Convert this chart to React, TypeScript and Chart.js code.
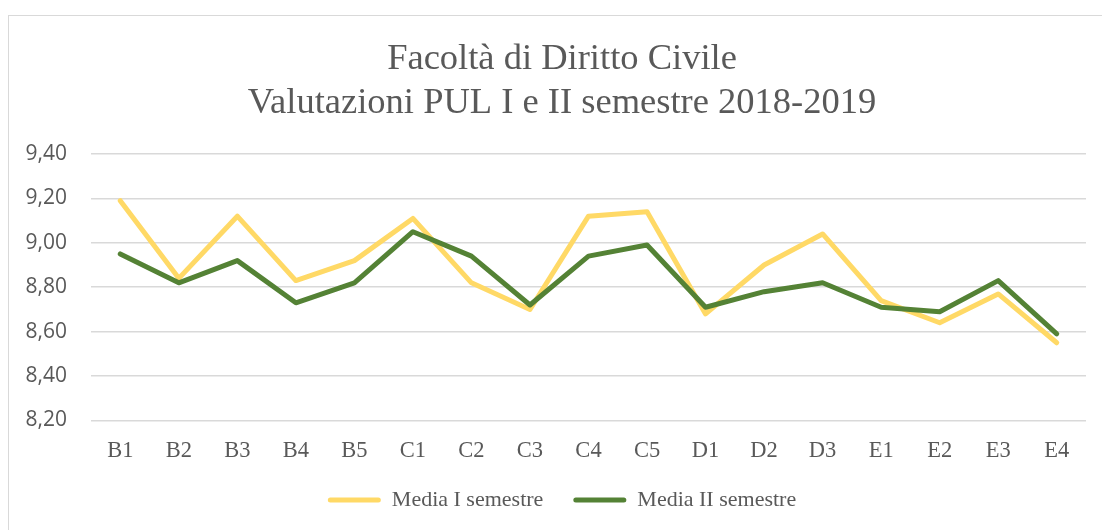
import React, { useEffect, useRef } from "react";
import { Chart, registerables } from "chart.js";

Chart.register(...registerables);

const titleLines = ["Facoltà di Diritto Civile", "Valutazioni PUL I e II semestre 2018-2019"];
const categories = ["B1", "B2", "B3", "B4", "B5", "C1", "C2", "C3", "C4", "C5", "D1", "D2", "D3", "E1", "E2", "E3", "E4"];
const seriesLabels = ["Media I semestre", "Media II semestre"];
const mediaI = [9.19, 8.84, 9.12, 8.83, 8.92, 9.11, 8.82, 8.7, 9.12, 9.14, 8.68, 8.9, 9.04, 8.74, 8.64, 8.77, 8.55];
const mediaII = [8.95, 8.82, 8.92, 8.73, 8.82, 9.05, 8.94, 8.72, 8.94, 8.99, 8.71, 8.78, 8.82, 8.71, 8.69, 8.83, 8.59];
const yMin = 8.2;
const yMax = 9.4;
const yStep = 0.2;

const TEXT = "#595959";
const YELLOW = "#FFD966";
const GREEN = "#548235";
const SERIF = "'Liberation Serif', 'Times New Roman', serif";

export default function App() {
  const ref = useRef<HTMLCanvasElement | null>(null);

  useEffect(() => {
    if (!ref.current) return;
    const chart = new Chart(ref.current, {
      type: "line",
      data: {
        labels: categories,
        datasets: [
          {
            label: seriesLabels[0],
            data: mediaI,
            borderColor: YELLOW,
            backgroundColor: YELLOW,
            borderWidth: 5,
            pointRadius: 0,
            tension: 0,
            borderJoinStyle: "round",
            borderCapStyle: "round",
            order: 2,
            yAxisID: "y",
          },
          {
            label: seriesLabels[1],
            data: mediaII,
            borderColor: GREEN,
            backgroundColor: GREEN,
            borderWidth: 5,
            pointRadius: 0,
            tension: 0,
            borderJoinStyle: "round",
            borderCapStyle: "round",
            order: 1,
            yAxisID: "y",
          },
        ],
      },
      options: {
        animation: false,
        responsive: false,
        maintainAspectRatio: false,
        layout: { padding: { left: 0, right: 0, top: 0, bottom: 9 } },
        plugins: {
          tooltip: { enabled: false },
          title: {
            display: true,
            text: titleLines,
            color: TEXT,
            font: { family: SERIF, size: 36.5, weight: "normal", lineHeight: 1.2 },
            padding: { top: 22, bottom: 28.4 },
          },
          legend: {
            position: "bottom",
            labels: {
              boxWidth: 53,
              boxHeight: 5,
              padding: 30,
              color: TEXT,
              useBorderRadius: true,
              borderRadius: 2.5,
              font: { family: SERIF, size: 22 },
              generateLabels: (c: any) =>
                c.data.datasets.map((ds: any, i: number) => ({
                  text: ds.label,
                  fillStyle: ds.borderColor,
                  strokeStyle: ds.borderColor,
                  lineWidth: 0,
                  hidden: false,
                  datasetIndex: i,
                  fontColor: TEXT,
                  borderRadius: 2.5,
                })),
            },
          },
        },
        scales: {
          x: {
            type: "category",
            offset: true,
            grid: { display: false, drawTicks: false },
            border: { display: false },
            ticks: {
              color: TEXT,
              padding: 17,
              maxRotation: 0,
              autoSkip: false,
              font: { family: SERIF, size: 22.5 },
            },
            afterFit: (s: any) => {
              s.height = 38.5;
            },
          },
          y: {
            type: "linear",
            position: "left",
            min: yMin,
            max: yMax,
            grid: { color: "#D9D9D9", lineWidth: 1.5, drawTicks: false },
            border: { display: false },
            ticks: {
              stepSize: yStep,
              padding: 24,
              color: TEXT,
              font: { family: "'Open Sans', 'Noto Sans', sans-serif", size: 21 },
              callback: (v: any) => Number(v).toFixed(2).replace(".", ","),
            },
            afterFit: (s: any) => {
              s.width = 82;
            },
          },
          yRight: {
            type: "linear",
            position: "right",
            display: true,
            grid: { display: false, drawTicks: false },
            border: { display: false },
            ticks: { display: false },
            afterFit: (s: any) => {
              s.width = 29;
            },
          },
        },
      },
    });
    return () => chart.destroy();
  }, []);

  return (
    <div
      style={{
        position: "fixed",
        left: 8,
        top: 15,
        width: 1106,
        height: 514,
        border: "1px solid #D9D9D9",
        background: "#fff",
      }}
    >
      <canvas ref={ref} width={1106} height={514} style={{ display: "block", width: 1106, height: 514 }} />
    </div>
  );
}
